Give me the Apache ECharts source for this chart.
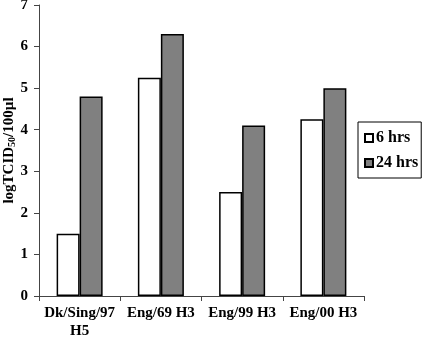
<!DOCTYPE html>
<html><head><meta charset="utf-8">
<script src="https://cdn.jsdelivr.net/npm/echarts@6/dist/echarts.min.js"></script>
<style>html,body{margin:0;padding:0;background:#fff}#c{width:425px;height:338px}</style>
</head><body><div id="c"></div>
<script>
const categories = ['Dk/Sing/97\nH5', 'Eng/69 H3', 'Eng/99 H3', 'Eng/00 H3'];
const hrs6 = [1.5, 5.25, 2.5, 4.25];
const hrs24 = [4.8, 6.3, 4.1, 5.0];
const seriesNames = ['6 hrs', '24 hrs'];
const yTicks = [0, 1, 2, 3, 4, 5, 6, 7];

const font = 'Liberation Serif';
const chart = echarts.init(document.getElementById('c'), null, {renderer: 'canvas'});
chart.setOption({
  animation: false,
  backgroundColor: '#fff',
  grid: {left: 39, right: 61, top: 5, bottom: 42, containLabel: false, outerBoundsMode: 'none'},
  legend: {
    orient: 'vertical',
    left: 358, top: 122,
    padding: [8, 3, 7, 6],
    borderColor: '#000', borderWidth: 1,
    itemWidth: 8, itemHeight: 8, itemGap: 9,
    icon: 'rect',
    textStyle: {fontFamily: font, fontWeight: 'bold', fontSize: 16, color: '#000', padding: [0, 0, 0, -2]},
    data: seriesNames
  },
  xAxis: {
    type: 'category',
    data: categories,
    axisLine: {lineStyle: {color: '#444', width: 1}},
    axisTick: {show: true, length: 5, alignWithLabel: false, lineStyle: {color: '#444'}},
    axisLabel: {fontFamily: font, fontWeight: 'bold', fontSize: 15, color: '#000', margin: 8, lineHeight: 18, interval: 0}
  },
  yAxis: {
    type: 'value', min: yTicks[0], max: yTicks[yTicks.length - 1], interval: 1,
    name: '{a|logTCID}{s|50}{a|/100µl}',
    nameLocation: 'middle', nameGap: 22, nameRotate: 90, nameMoveOverlap: false,
    nameTextStyle: {
      rich: {
        a: {fontFamily: font, fontWeight: 'bold', fontSize: 15, color: '#000'},
        s: {fontFamily: font, fontWeight: 'bold', fontSize: 10, color: '#000', verticalAlign: 'bottom', padding: [6, 0, 0, 0]}
      }
    },
    splitLine: {show: false},
    axisLine: {show: true, lineStyle: {color: '#444', width: 1}},
    axisTick: {show: true, inside: false, length: 5, lineStyle: {color: '#444'}},
    axisLabel: {fontFamily: font, fontWeight: 'bold', fontSize: 15, color: '#000', margin: 11}
  },
  series: [
    {name: seriesNames[0], type: 'bar', data: hrs6, barWidth: 23, barGap: '0%',
     itemStyle: {color: '#ffffff', borderColor: '#000', borderWidth: 1.5}},
    {name: seriesNames[1], type: 'bar', data: hrs24, barWidth: 23, barGap: '0%',
     itemStyle: {color: '#808080', borderColor: '#000', borderWidth: 1.5}}
  ]
});
</script></body></html>
